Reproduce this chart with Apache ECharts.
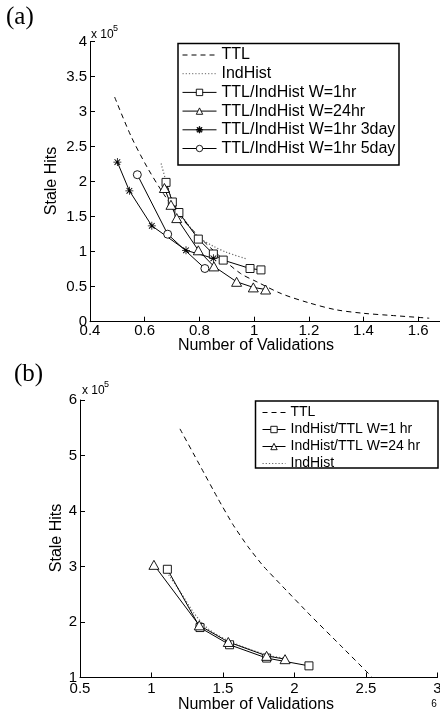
<!DOCTYPE html>
<html><head><meta charset="utf-8">
<script src="https://cdn.jsdelivr.net/npm/echarts@6/dist/echarts.min.js"></script>
<style>html,body{margin:0;padding:0;background:#fff}#c{width:440px;height:712px}</style>
</head><body><div id="c"></div>
<script>
// ---- Panel (a) data (y in units of 1e5) ----
const aTTLx = [0.49, 0.55, 0.61, 0.67, 0.73, 0.80, 0.87, 0.95, 1.01, 1.10, 1.20, 1.30, 1.40, 1.50, 1.64];
const aTTLy = [3.21, 2.65, 2.20, 1.82, 1.50, 1.21, 0.95, 0.69, 0.57, 0.40, 0.27, 0.17, 0.12, 0.09, 0.05];
const aIndx = [0.66, 0.68, 0.70, 0.73, 0.76, 0.80, 0.85, 0.90, 0.97];
const aIndy = [2.26, 1.98, 1.75, 1.55, 1.38, 1.20, 1.08, 0.99, 0.90];
const aW1x = [0.678, 0.701, 0.725, 0.796, 0.851, 0.887, 0.985, 1.025];
const aW1y = [1.99, 1.71, 1.56, 1.18, 0.967, 0.88, 0.76, 0.74];
const aW24x = [0.672, 0.696, 0.717, 0.796, 0.853, 0.936, 0.997, 1.042];
const aW24y = [1.91, 1.67, 1.48, 1.02, 0.79, 0.57, 0.49, 0.46];
const a3dx = [0.50, 0.544, 0.626, 0.751, 0.851];
const a3dy = [2.28, 1.87, 1.37, 1.02, 0.905];
const a5dx = [0.573, 0.684, 0.82];
const a5dy = [2.10, 1.25, 0.76];
const aXTicks = [0.4, 0.6, 0.8, 1.0, 1.2, 1.4, 1.6];
const aYTicks = [0, 0.5, 1, 1.5, 2, 2.5, 3, 3.5, 4];
const aNames = ['TTL', 'IndHist', 'TTL/IndHist W=1hr', 'TTL/IndHist W=24hr', 'TTL/IndHist W=1hr 3day', 'TTL/IndHist W=1hr 5day'];

// ---- Panel (b) data ----
const bTTLx = [1.199, 1.339, 1.465, 1.570, 1.675, 1.780, 1.899, 2.108, 2.318, 2.540];
const bTTLy = [5.48, 4.818, 4.222, 3.753, 3.356, 3.013, 2.688, 2.128, 1.587, 1.014];
const bW1x = [1.111, 1.339, 1.546, 1.805, 2.101];
const bW1y = [2.95, 1.90, 1.59, 1.35, 1.21];
const bW24x = [1.017, 1.334, 1.537, 1.805, 1.934];
const bW24y = [3.03, 1.94, 1.64, 1.39, 1.33];
const bIndx = [1.12, 1.20, 1.30, 1.40, 1.55, 1.80, 1.93];
const bIndy = [2.85, 2.55, 2.15, 1.87, 1.65, 1.41, 1.35];
const bXTicks = [0.5, 1, 1.5, 2, 2.5, 3];
const bYTicks = [1, 2, 3, 4, 5, 6];
const bNames = ['TTL', 'IndHist/TTL W=1 hr', 'IndHist/TTL W=24 hr', 'IndHist'];

const zip = (xs, ys) => xs.map((x, i) => [x, ys[i]]);
const FONT = '"Liberation Sans", Arial, sans-serif';
const STAR = 'path://M-1,-10L1,-10L1,10L-1,10Z M-10,-1L10,-1L10,1L-10,1Z M-7.92,-6.22L-6.22,-7.92L7.92,6.22L6.22,7.92Z M-6.22,7.92L-7.92,6.22L6.22,-7.92L7.92,-6.22Z';
const fmt = v => String(+v.toFixed(2));
const noSymbolNames = ['TTL', 'IndHist'];
const legendItems = names => names.map(n => noSymbolNames.indexOf(n) >= 0
  ? { name: n, itemStyle: { opacity: 0, borderWidth: 0 } }
  : { name: n });

function axisX(idx, min, max, interval, margin, showMax) {
  return {
    type: 'value', gridIndex: idx, min: min, max: max, interval: interval,
    axisLine: { lineStyle: { color: '#000', width: 1 } },
    axisTick: { inside: true, length: 5, lineStyle: { color: '#000' } },
    axisLabel: { color: '#000', fontFamily: FONT, fontSize: 15, margin: margin, formatter: fmt, showMaxLabel: showMax },
    splitLine: { show: false }
  };
}
function axisY(idx, min, max, interval) {
  return {
    type: 'value', gridIndex: idx, min: min, max: max, interval: interval,
    axisLine: { show: true, lineStyle: { color: '#000', width: 1 } },
    axisTick: { show: true, inside: true, length: 5, lineStyle: { color: '#000' } },
    axisLabel: { color: '#000', fontFamily: FONT, fontSize: 15, margin: 3, formatter: fmt },
    splitLine: { show: false }
  };
}
const lineBase = (name, xi, data, extra) => Object.assign({
  name: name, type: 'line', xAxisIndex: xi, yAxisIndex: xi, data: data,
  color: '#000', lineStyle: { color: '#000', width: 1 },
  itemStyle: { color: '#fff', borderColor: '#000', borderWidth: 0.9 },
  showSymbol: true, animation: false, emphasis: { disabled: true }
}, extra);
const starStyle = { color: '#000', borderColor: '#000', borderWidth: 0 };
const dashed = { color: '#000', width: 1, type: [5, 4] };
const dotted = { color: '#666', width: 1.2, type: [1.2, 2] };

const series = [
  lineBase(aNames[0], 0, zip(aTTLx, aTTLy), { symbol: 'none', smooth: 0.3, lineStyle: dashed }),
  lineBase(aNames[1], 0, zip(aIndx, aIndy), { symbol: 'none', smooth: 0.3, lineStyle: dotted }),
  lineBase(aNames[2], 0, zip(aW1x, aW1y), { symbol: 'rect', symbolSize: 8 }),
  lineBase(aNames[3], 0, zip(aW24x, aW24y), { symbol: 'triangle', symbolSize: [10, 9] }),
  lineBase(aNames[4], 0, zip(a3dx, a3dy), { symbol: STAR, symbolSize: 8, itemStyle: starStyle }),
  lineBase(aNames[5], 0, zip(a5dx, a5dy), { symbol: 'circle', symbolSize: 8 }),
  lineBase(bNames[0], 1, zip(bTTLx, bTTLy), { symbol: 'none', smooth: 0.15, lineStyle: dashed }),
  lineBase(bNames[3], 1, zip(bIndx, bIndy), { symbol: 'none', smooth: 0.3, lineStyle: dotted }),
  lineBase(bNames[1], 1, zip(bW1x, bW1y), { symbol: 'rect', symbolSize: 8 }),
  lineBase(bNames[2], 1, zip(bW24x, bW24y), { symbol: 'triangle', symbolSize: [10, 9] })
];

const legendCommon = {
  orient: 'vertical', padding: 0, itemHeight: 8, selectedMode: false,
  itemStyle: { borderWidth: 0.9 }, lineStyle: { width: 1 }
};

const chart = echarts.init(document.getElementById('c'), null, { renderer: 'canvas' });
chart.setOption({
  animation: false,
  backgroundColor: '#fff',
  grid: [
    { left: 90, top: 41.7, width: 355.6, height: 280, outerBoundsMode: 'none', containLabel: false },
    { left: 80, top: 400, width: 357.5, height: 277.5, outerBoundsMode: 'none', containLabel: false }
  ],
  xAxis: [axisX(0, aXTicks[0], 1.7, 0.2, 2, false), axisX(1, bXTicks[0], bXTicks[bXTicks.length - 1], 0.5, 4, true)],
  yAxis: [axisY(0, aYTicks[0], aYTicks[aYTicks.length - 1], 0.5), axisY(1, bYTicks[0], bYTicks[bYTicks.length - 1], 1)],
  legend: [
    Object.assign({}, legendCommon, { data: legendItems(aNames), left: 182, top: 47, itemWidth: 34, itemGap: 2.7,
      textStyle: { color: '#000', fontFamily: FONT, fontSize: 16, lineHeight: 16 } }),
    Object.assign({}, legendCommon, { data: legendItems(bNames), left: 262, top: 405.5, itemWidth: 23, itemGap: 3,
      textStyle: { color: '#000', fontFamily: FONT, fontSize: 14, lineHeight: 14 } })
  ],
  graphic: [
    { type: 'rect', shape: { x: 178, y: 43.5, width: 221, height: 121.5 }, style: { fill: 'none', stroke: '#000', lineWidth: 1.5 }, z: 50, silent: true },
    { type: 'rect', shape: { x: 255.5, y: 401, width: 182.5, height: 67 }, style: { fill: 'none', stroke: '#000', lineWidth: 1.5 }, z: 50, silent: true },
    { type: 'text', left: 6, top: 5, style: { text: '(a)', font: '25px "Liberation Serif", serif', fill: '#000' } },
    { type: 'text', left: 14, top: 362, style: { text: '(b)', font: '25px "Liberation Serif", serif', fill: '#000' } },
    { type: 'text', left: 91, top: 29, style: { text: 'x 10', font: '12px ' + FONT, fill: '#000' } },
    { type: 'text', left: 113, top: 24, style: { text: '5', font: '9px ' + FONT, fill: '#000' } },
    { type: 'text', left: 82, top: 385, style: { text: 'x 10', font: '12px ' + FONT, fill: '#000' } },
    { type: 'text', left: 104, top: 380, style: { text: '5', font: '9px ' + FONT, fill: '#000' } },
    { type: 'text', x: 52, y: 181, rotation: Math.PI / 2, style: { text: 'Stale Hits', font: '16px ' + FONT, fill: '#000', textAlign: 'center', textVerticalAlign: 'middle' } },
    { type: 'text', x: 57, y: 538, rotation: Math.PI / 2, style: { text: 'Stale Hits', font: '16px ' + FONT, fill: '#000', textAlign: 'center', textVerticalAlign: 'middle' } },
    { type: 'text', x: 256, y: 346, style: { text: 'Number of Validations', font: '16px ' + FONT, fill: '#000', textAlign: 'center', textVerticalAlign: 'middle' } },
    { type: 'text', x: 256, y: 705, style: { text: 'Number of Validations', font: '16px ' + FONT, fill: '#000', textAlign: 'center', textVerticalAlign: 'middle' } },
    { type: 'text', x: 434, y: 704, style: { text: '6', font: '10px ' + FONT, fill: '#000', textAlign: 'center', textVerticalAlign: 'middle' } }
  ],
  series: series
});
</script></body></html>
